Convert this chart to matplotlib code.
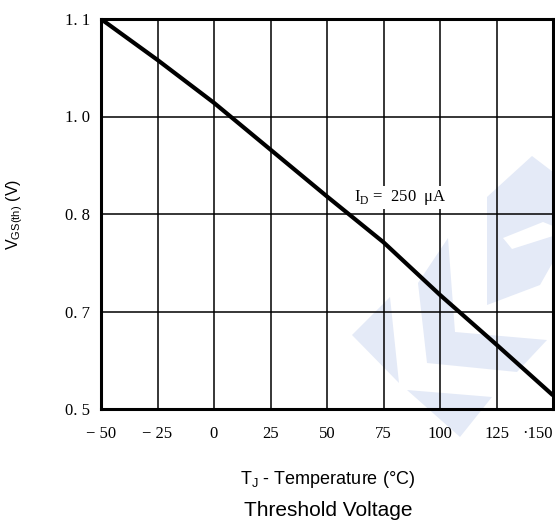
import numpy as np
import matplotlib.pyplot as plt
from matplotlib.patches import Polygon

# temperature (deg C) and threshold voltage (V)
temp = [-50, -25, 0, 25, 50, 75, 100, 125, 150]
vgs = [1.100, 1.058, 1.014, 0.932, 0.836, 0.771, 0.717, 0.632, 0.528]

# the y axis of the datasheet is not linear: equal spaced gridlines
ylab_vals = [0.5, 0.7, 0.8, 1.0, 1.1]
ylab_txt = ["0. 5", "0. 7", "0. 8", "1. 0", "1. 1"]
xticks = [-50, -25, 0, 25, 50, 75, 100, 125, 150]
xlab_txt = ["\u2212 50", "\u2212 25", "0", "25", "50", "75", "100", "125", "\u00b7150"]

ypos = np.arange(len(ylab_vals))
vgs_pos = np.interp(vgs, ylab_vals, ypos)

fig = plt.figure(figsize=(5.55, 5.23), dpi=100)
ax = fig.add_axes([101/555, 1-409/523, 452/555, 390/523])

# watermark (light blue logo behind the chart), figure pixel coords
W, H = 555, 523
wm = [
    [(352, 335), (390, 297), (399, 383)],
    [(407, 390), (492, 397), (460, 437)],
    [(418, 283), (448, 238), (455, 332), (547, 340), (517, 372), (427, 363)],
    [(487, 197), (532, 156), (553, 172), (553, 262), (540, 285), (487, 305)],
]
for p in wm:
    pts = [(x / W, 1 - y / H) for x, y in p]
    fig.patches.append(Polygon(pts, closed=True, transform=fig.transFigure,
                               facecolor='#e4eaf7', edgecolor='none', zorder=-5))
notch = [(503, 238), (543, 222), (553, 226), (553, 236), (512, 249)]
fig.patches.append(Polygon([(x / W, 1 - y / H) for x, y in notch], closed=True,
                           transform=fig.transFigure, facecolor='white',
                           edgecolor='none', zorder=-4))
ax.patch.set_alpha(0)

ax.plot(temp, vgs_pos, color='black', lw=3, zorder=3, solid_capstyle='butt')

ax.set_xlim(-50, 150)
ax.set_ylim(0, len(ylab_vals) - 1)
ax.set_xticks(xticks)
ax.set_xticklabels(xlab_txt)
ax.set_yticks(ypos)
ax.set_yticklabels(ylab_txt)
ax.grid(True, color='black', lw=1.1)
ax.set_axisbelow(True)
ax.tick_params(length=0, labelsize=12)
ax.tick_params(axis='x', pad=12)
ax.tick_params(axis='y', pad=8)
for lb in ax.get_xticklabels() + ax.get_yticklabels():
    lb.set_family('Liberation Serif')
ax.get_xticklabels()[-1].set_horizontalalignment('right')
for s in ax.spines.values():
    s.set_linewidth(2.2)
    s.set_zorder(4)

ax.text(62, 2.17, "I$_\\mathregular{D}$ =  250  \u03bcA",
        family='Liberation Serif', fontsize=12, va='center', ha='left',
        bbox=dict(facecolor='white', edgecolor='none', pad=1.5), zorder=2.5)

fig.text(328/555, 1 - 479/523, r"T$_\mathregular{J}$ - Temperature (°C)",
         family='Liberation Sans', fontsize=13, ha='center', va='center')
fig.text(328/555, 1 - 510/523, "Threshold Voltage",
         family='Liberation Sans', fontsize=15, ha='center', va='center')
fig.text(15/555, 1 - 214/523, r"V$_\mathregular{GS(th)}$ (V)",
         family='Liberation Sans', fontsize=11.5, ha='center', va='center',
         rotation=90)

fig.savefig('out.png', dpi=100)
